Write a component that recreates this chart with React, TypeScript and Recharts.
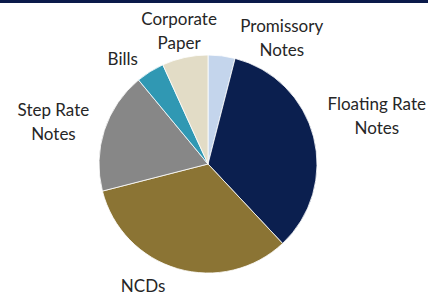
import React from 'react';
import { PieChart, Pie, Cell } from 'recharts';

const categories = ['Promissory Notes', 'Floating Rate Notes', 'NCDs', 'Step Rate Notes', 'Bills', 'Corporate Paper'];
const shares = [4, 34, 33, 18, 4.2, 6.8];
const labelLines = [['Promissory', 'Notes'], ['Floating Rate', 'Notes'], ['NCDs'], ['Step Rate', 'Notes'], ['Bills'], ['Corporate', 'Paper']];
const colors = ['#c4d5ec', '#0b1f4f', '#8b7434', '#878787', '#3098b3', '#e2dcc6'];

// label layout tweaks (angle shift in degrees clockwise, radial gap in px)
const labelShift = [23, -1.5, 12, -2.5, -7, 0];
const labelGap = [-4, 8, 10, 9, 4, -4];

const data = categories.map((name, i) => ({ name, value: shares[i] }));

const LINE_H = 24;
const CHAR_W = 8.3;

const renderLabel = (props: any) => {
  const { cx, cy, midAngle, outerRadius, index } = props;
  const lines = labelLines[index];
  const ang = ((midAngle - labelShift[index]) * Math.PI) / 180;
  const dx = Math.cos(ang);
  const dy = -Math.sin(ang);
  const w = Math.max(...lines.map((l) => l.length)) * CHAR_W;
  const h = lines.length * LINE_H;
  const proj = Math.abs(dx) * (w / 2) + Math.abs(dy) * (h / 2);
  const dist = outerRadius + labelGap[index] + proj;
  const x = cx + dist * dx;
  const y = cy + dist * dy;
  return (
    <text x={x} y={y} textAnchor="middle" fill="#262626" fontSize={17} fontFamily="Lato, 'Open Sans', sans-serif">
      {lines.map((l, i) => (
        <tspan key={i} x={x} y={y + (i - (lines.length - 1) / 2) * LINE_H} dominantBaseline="central">
          {l}
        </tspan>
      ))}
    </text>
  );
};

export default function App() {
  return (
    <div style={{ position: 'fixed', left: 0, top: 0, width: 428, height: 296, background: '#fff' }}>
      <div style={{ position: 'absolute', left: 0, top: 0, width: 428, height: 3, background: '#0a1a4a', zIndex: 1 }} />
      <PieChart width={428} height={296} margin={{ top: 0, right: 0, bottom: 0, left: 0 }}>
        <Pie
          data={data}
          dataKey="value"
          nameKey="name"
          cx={208}
          cy={164}
          outerRadius={109}
          startAngle={90}
          endAngle={-270}
          stroke="#fff"
          strokeWidth={0.8}
          label={renderLabel}
          labelLine={false}
          isAnimationActive={false}
        >
          {data.map((d, i) => (
            <Cell key={d.name} fill={colors[i]} />
          ))}
        </Pie>
      </PieChart>
    </div>
  );
}
